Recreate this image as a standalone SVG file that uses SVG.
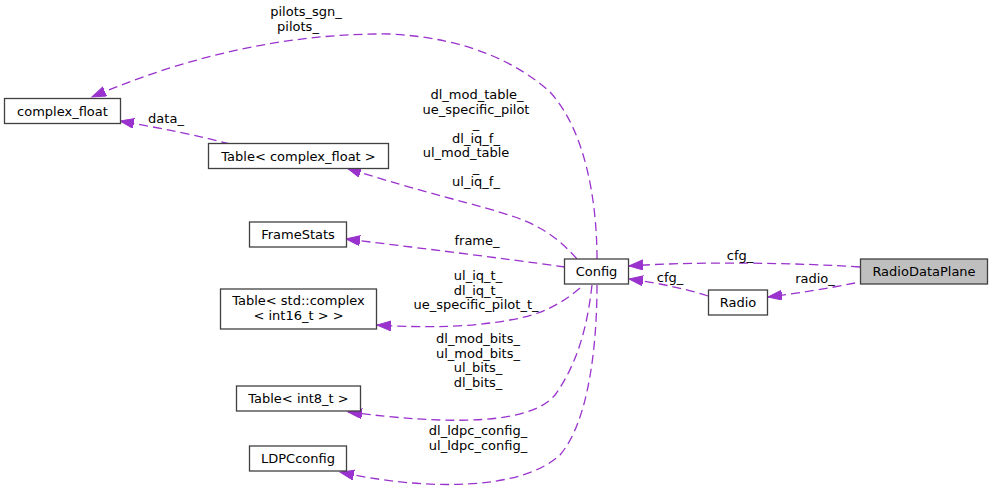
<svg xmlns="http://www.w3.org/2000/svg" width="993" height="490" viewBox="0 0 993 490">
<defs>
<style>
text{font-family:"DejaVu Sans","Liberation Sans",sans-serif;font-size:13px;fill:#000;text-anchor:middle}
.n rect{fill:#fff;stroke:#404040;stroke-width:1.3}
.n.hl rect{fill:#bfbfbf}
.e path{fill:none;stroke:#9a32cd;stroke-width:1.3;stroke-dasharray:9,5;marker-end:url(#ah)}
</style>
<marker id="ah" markerUnits="userSpaceOnUse" markerWidth="16" markerHeight="12" refX="14" refY="5" orient="auto">
<path d="M0,0 L14,5 L0,10 Z" fill="#9a32cd" stroke="#9a32cd" stroke-width="1"/>
</marker>
</defs>
<rect width="993" height="490" fill="#fff"/>
<g id="connectors" class="e">
<path d="M597,259 C597,200 585,130 550,92 C520,65 470,38 390,34 C290,33 190,55 92,97"/>
<path d="M577,259 C560,240 545,228 515,217 C480,205 420,192 347,168"/>
<path d="M565,267 C500,258 420,248 346,239"/>
<path d="M580,288 C560,305 540,315 510,320 C460,329 410,327 377,325"/>
<path d="M592,285 C588,320 580,360 555,395 C530,425 450,425 348,412"/>
<path d="M597,285 C597,340 590,420 560,455 C520,492 420,490 340,472"/>
<path d="M230,144 C200,136 160,128 120,121"/>
<path d="M860,267 C800,263 700,261 629,266"/>
<path d="M855,283 C830,288 800,293 768,297"/>
<path d="M708,296 C690,290 660,283 629,279"/>
</g>
<g id="edge-labels">
<text x="306" y="16">pilots_sgn_</text>
<text x="298" y="31">pilots_</text>
<text x="477" y="99">dl_mod_table_</text>
<text x="476" y="113.5">ue_specific_pilot</text>
<text x="476" y="128">_</text>
<text x="476" y="142.5">dl_iq_f_</text>
<text x="466" y="157">ul_mod_table</text>
<text x="476" y="171.5">_</text>
<text x="476" y="186">ul_iq_f_</text>
<text x="477" y="245">frame_</text>
<text x="478" y="280">ul_iq_t_</text>
<text x="478" y="294.5">dl_iq_t_</text>
<text x="476" y="309">ue_specific_pilot_t_</text>
<text x="478" y="343">dl_mod_bits_</text>
<text x="478" y="357.5">ul_mod_bits_</text>
<text x="478" y="372">ul_bits_</text>
<text x="478" y="386.5">dl_bits_</text>
<text x="478" y="435">dl_ldpc_config_</text>
<text x="478" y="449.5">ul_ldpc_config_</text>
<text x="166" y="123">data_</text>
<text x="740" y="260">cfg_</text>
<text x="815" y="283">radio_</text>
<text x="670" y="282">cfg_</text>
</g>
<g id="complex_float" class="n"><rect x="4.5" y="98.5" width="116" height="25"/><text x="62.5" y="115.5">complex_float</text></g>
<g id="table_complex_float" class="n"><rect x="208.5" y="143.5" width="180" height="25"/><text x="298.5" y="160.5">Table&lt; complex_float &gt;</text></g>
<g id="framestats" class="n"><rect x="249.5" y="222" width="97" height="25"/><text x="298" y="239">FrameStats</text></g>
<g id="table_std_complex" class="n"><rect x="220.5" y="289" width="156" height="40"/><text x="298.5" y="305">Table&lt; std::complex</text><text x="298.5" y="320">&lt; int16_t &gt; &gt;</text></g>
<g id="table_int8" class="n"><rect x="236.5" y="386" width="124" height="25"/><text x="298.5" y="403">Table&lt; int8_t &gt;</text></g>
<g id="ldpcconfig" class="n"><rect x="249.5" y="446" width="97" height="25"/><text x="298" y="463">LDPCconfig</text></g>
<g id="config" class="n"><rect x="564.5" y="259" width="64" height="25"/><text x="596.5" y="276">Config</text></g>
<g id="radio" class="n"><rect x="708.5" y="290" width="59" height="25"/><text x="738" y="307">Radio</text></g>
<g id="radiodataplane" class="n hl"><rect x="860.5" y="259" width="127" height="25"/><text x="924" y="276">RadioDataPlane</text></g>
</svg>
